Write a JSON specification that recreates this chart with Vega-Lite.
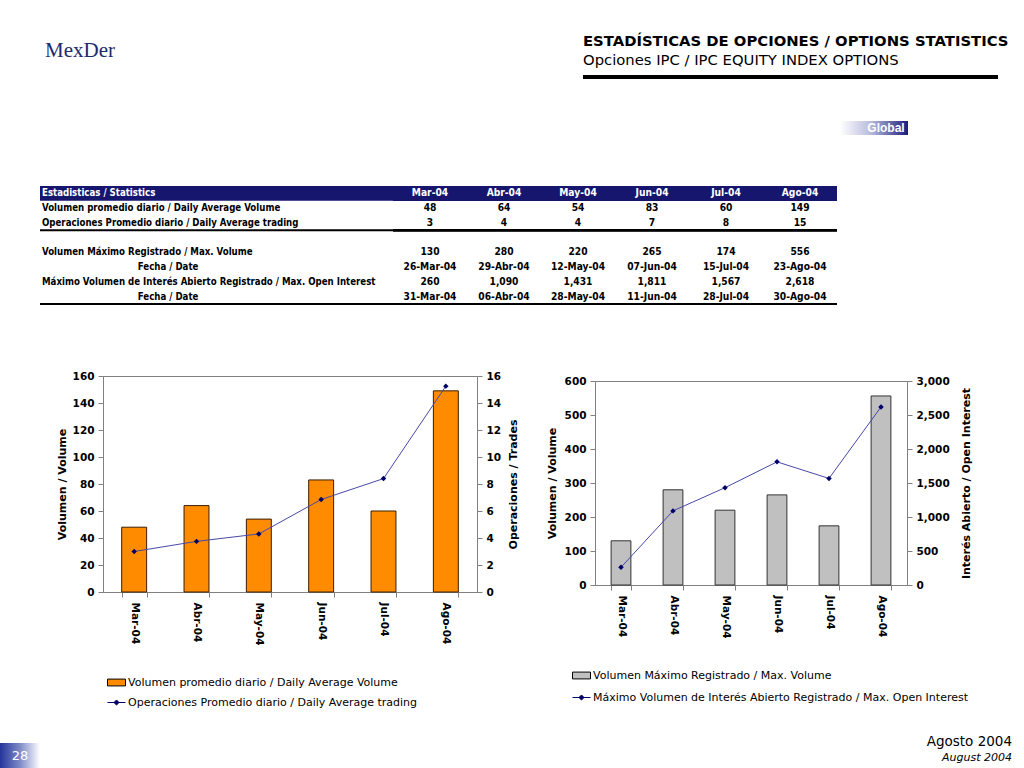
{
  "$schema": "https://vega.github.io/schema/vega-lite/v6.json",
  "background": "#ffffff",
  "padding": 0,
  "spacing": 0,
  "resolve": {"scale": {"color": "independent", "fill": "independent"}, "legend": {"color": "independent", "fill": "independent"}},
  "config": {
    "view": {"stroke": null},
    "axis": {"labelFont": "DejaVu Sans", "titleFont": "DejaVu Sans", "labelColor": "#000000", "titleColor": "#000000", "grid": false},
    "legend": {"padding": 0, "labelFont": "DejaVu Sans"},
    "text": {"font": "DejaVu Sans"}
  },
  "datasets": {
    "mensual1": [
      {"mes": "Mar-04", "vol": 48, "ops": 3.0},
      {"mes": "Abr-04", "vol": 64, "ops": 3.75},
      {"mes": "May-04", "vol": 54, "ops": 4.3},
      {"mes": "Jun-04", "vol": 83, "ops": 6.85},
      {"mes": "Jul-04", "vol": 60, "ops": 8.4},
      {"mes": "Ago-04", "vol": 149, "ops": 15.25}
    ],
    "mensual2": [
      {"mes": "Mar-04", "volmax": 130, "oi": 260},
      {"mes": "Abr-04", "volmax": 280, "oi": 1090},
      {"mes": "May-04", "volmax": 220, "oi": 1431},
      {"mes": "Jun-04", "volmax": 265, "oi": 1811},
      {"mes": "Jul-04", "volmax": 174, "oi": 1567},
      {"mes": "Ago-04", "volmax": 556, "oi": 2618}
    ],
    "tabla": [
      {"clave": "header", "fila": "Estadisticas / Statistics", "Mar-04": "Mar-04", "Abr-04": "Abr-04", "May-04": "May-04", "Jun-04": "Jun-04", "Jul-04": "Jul-04", "Ago-04": "Ago-04"},
      {"clave": "vol_prom", "fila": "Volumen promedio diario / Daily Average Volume", "Mar-04": "48", "Abr-04": "64", "May-04": "54", "Jun-04": "83", "Jul-04": "60", "Ago-04": "149"},
      {"clave": "ops_prom", "fila": "Operaciones Promedio diario / Daily Average trading", "Mar-04": "3", "Abr-04": "4", "May-04": "4", "Jun-04": "7", "Jul-04": "8", "Ago-04": "15"},
      {"clave": "vol_max", "fila": "Volumen Máximo Registrado / Max. Volume", "Mar-04": "130", "Abr-04": "280", "May-04": "220", "Jun-04": "265", "Jul-04": "174", "Ago-04": "556"},
      {"clave": "fecha_vol", "fila": "Fecha / Date", "Mar-04": "26-Mar-04", "Abr-04": "29-Abr-04", "May-04": "12-May-04", "Jun-04": "07-Jun-04", "Jul-04": "15-Jul-04", "Ago-04": "23-Ago-04"},
      {"clave": "oi_max", "fila": "Máximo Volumen de Interés Abierto Registrado / Max. Open Interest", "Mar-04": "260", "Abr-04": "1,090", "May-04": "1,431", "Jun-04": "1,811", "Jul-04": "1,567", "Ago-04": "2,618"},
      {"clave": "fecha_oi", "fila": "Fecha / Date", "Mar-04": "31-Mar-04", "Abr-04": "06-Abr-04", "May-04": "28-May-04", "Jun-04": "11-Jun-04", "Jul-04": "28-Jul-04", "Ago-04": "30-Ago-04"}
    ],
    "logo": [{"t": "MexDer"}],
    "tab": [{"t": "Global"}],
    "pagina": [{"t": "28"}],
    "fecha": [
      {"linea": "es", "t": "Agosto 2004"},
      {"linea": "en", "t": "August 2004"}
    ]
  },
  "vconcat": [
    {
      "spacing": 0,
      "bounds": "flush",
      "hconcat": [
        {"width": 47, "height": 120, "data": {"values": [{}]}, "mark": {"type": "text", "text": ""}, "encoding": {}},
        {"width": 66, "height": 100, "data": {"name": "logo"}, "mark": {"type": "text", "font": "Liberation Serif", "fontSize": 21, "color": "#1c2a6e"}, "encoding": {"text": {"field": "t"}}},
        {"width": 470, "height": 10, "data": {"values": [{}]}, "mark": {"type": "text", "text": ""}, "encoding": {}},
        {
          "spacing": 0,
          "bounds": "flush",
          "vconcat": [
            {"width": 415, "height": 74, "data": {"values": [{}]}, "mark": {"type": "text", "text": ""}, "encoding": {}},
            {
              "width": 415, "height": 4,
              "view": {"fill": "#000000", "stroke": null},
              "title": {"text": "ESTADÍSTICAS DE OPCIONES / OPTIONS STATISTICS", "subtitle": "Opciones IPC / IPC EQUITY INDEX OPTIONS", "anchor": "start", "font": "DejaVu Sans", "fontSize": 14.8, "fontWeight": "bold", "color": "#000000", "subtitleFont": "DejaVu Sans", "subtitleFontSize": 14.8, "subtitleColor": "#000000", "subtitlePadding": 4, "offset": 3},
              "data": {"values": [{}]}, "mark": {"type": "text", "text": ""}, "encoding": {}
            }
          ]
        }
      ]
    },
    {
      "spacing": 0,
      "bounds": "flush",
      "hconcat": [
        {"width": 840, "height": 65, "data": {"values": [{}]}, "mark": {"type": "text", "text": ""}, "encoding": {}},
        {
          "width": 68, "height": 14,
          "view": {"stroke": null, "fill": {"gradient": "linear", "x1": 0, "x2": 1, "y1": 0, "y2": 0, "stops": [{"offset": 0, "color": "#ffffff"}, {"offset": 0.45, "color": "#b8bcdc"}, {"offset": 1, "color": "#1c1c7c"}]}},
          "data": {"name": "tab"},
          "mark": {"type": "text", "color": "#ffffff", "font": "Liberation Sans", "fontWeight": "bold", "fontSize": 12, "dx": 12},
          "encoding": {"text": {"field": "t"}}
        }
      ]
    },
    {
      "spacing": 0,
      "bounds": "flush",
      "hconcat": [
        {"width": 40, "height": 184, "data": {"values": [{}]}, "mark": {"type": "text", "text": ""}, "encoding": {}},
        {
          "width": 353, "height": 118,
          "data": {"name": "tabla"},
          "encoding": {
            "y": {"field": "clave", "type": "nominal", "scale": {"type": "band", "paddingInner": 0, "paddingOuter": 0, "domain": ["header", "vol_prom", "ops_prom", "gap", "vol_max", "fecha_vol", "oi_max", "fecha_oi"]}, "axis": null}
          },
          "layer": [
            {"transform": [{"filter": "datum.clave === 'header'"}], "mark": {"type": "rect", "color": "#16166e"}, "encoding": {}},
            {
              "transform": [{"filter": "datum.clave === 'header'"}],
              "mark": {"type": "text", "align": "left", "dx": 2, "color": "#ffffff", "font": "DejaVu Sans Condensed, sans-serif", "fontSize": 9.6, "fontWeight": "bold"},
              "encoding": {"x": {"datum": "c", "type": "nominal", "bandPosition": 0, "scale": {"type": "band", "paddingInner": 0, "paddingOuter": 0}, "axis": null}, "text": {"field": "fila"}}
            },
            {
              "transform": [{"filter": "datum.clave !== 'header' && datum.clave !== 'fecha_vol' && datum.clave !== 'fecha_oi'"}],
              "mark": {"type": "text", "align": "left", "dx": 2, "color": "#000000", "font": "DejaVu Sans Condensed, sans-serif", "fontSize": 9.6, "fontWeight": "bold"},
              "encoding": {"x": {"datum": "c", "type": "nominal", "bandPosition": 0}, "text": {"field": "fila"}}
            },
            {
              "transform": [{"filter": "datum.clave === 'fecha_vol' || datum.clave === 'fecha_oi'"}],
              "mark": {"type": "text", "align": "center", "color": "#000000", "font": "DejaVu Sans Condensed, sans-serif", "fontSize": 9.6, "fontWeight": "bold"},
              "encoding": {"x": {"datum": "c", "type": "nominal", "bandPosition": 0.363}, "text": {"field": "fila"}}
            },
            {
              "transform": [{"filter": "datum.clave === 'ops_prom' || datum.clave === 'fecha_oi'"}],
              "mark": {"type": "rule", "color": "#000000", "strokeWidth": 2},
              "encoding": {"y": {"field": "clave", "type": "nominal", "bandPosition": 1}}
            }
          ]
        },
        {
          "width": 444, "height": 118,
          "data": {"name": "tabla"},
          "transform": [{"fold": ["Mar-04", "Abr-04", "May-04", "Jun-04", "Jul-04", "Ago-04"], "as": ["mes", "valor"]}],
          "encoding": {
            "y": {"field": "clave", "type": "nominal", "scale": {"type": "band", "paddingInner": 0, "paddingOuter": 0, "domain": ["header", "vol_prom", "ops_prom", "gap", "vol_max", "fecha_vol", "oi_max", "fecha_oi"]}, "axis": null}
          },
          "layer": [
            {"transform": [{"filter": "datum.clave === 'header'"}], "mark": {"type": "rect", "color": "#16166e"}, "encoding": {}},
            {
              "transform": [{"filter": "datum.clave === 'header'"}],
              "mark": {"type": "text", "align": "center", "color": "#ffffff", "font": "DejaVu Sans Condensed, sans-serif", "fontSize": 10.2, "fontWeight": "bold"},
              "encoding": {"x": {"field": "mes", "type": "nominal", "scale": {"type": "band", "paddingInner": 0, "paddingOuter": 0, "domain": ["Mar-04", "Abr-04", "May-04", "Jun-04", "Jul-04", "Ago-04"]}, "axis": null}, "text": {"field": "valor"}}
            },
            {
              "transform": [{"filter": "datum.clave !== 'header'"}],
              "mark": {"type": "text", "align": "center", "color": "#000000", "font": "DejaVu Sans Condensed, sans-serif", "fontSize": 10.2, "fontWeight": "bold"},
              "encoding": {"x": {"field": "mes", "type": "nominal"}, "text": {"field": "valor"}}
            },
            {
              "transform": [{"filter": "datum.clave === 'ops_prom' || datum.clave === 'fecha_oi'"}],
              "mark": {"type": "rule", "color": "#000000", "strokeWidth": 2},
              "encoding": {"y": {"field": "clave", "type": "nominal", "bandPosition": 1}}
            }
          ]
        }
      ]
    },
    {
      "spacing": 0,
      "bounds": "flush",
      "resolve": {"scale": {"color": "independent", "fill": "independent"}, "legend": {"color": "independent", "fill": "independent"}},
      "hconcat": [
        {"width": 103, "height": 10, "data": {"values": [{}]}, "mark": {"type": "text", "text": ""}, "encoding": {}},
        {
          "width": 374, "height": 216,
          "view": {"stroke": "#808080"},
          "data": {"name": "mensual1"},
          "encoding": {
            "x": {"field": "mes", "type": "nominal", "sort": null, "scale": {"type": "band", "paddingInner": 0.6, "paddingOuter": 0.3},
              "axis": {"title": null, "labelAngle": 90, "labelFontWeight": "bold", "labelFontSize": 10.5, "labelPadding": 5, "tickBand": "extent", "tickSize": 5, "domainColor": "#808080", "tickColor": "#808080"}}
          },
          "layer": [
            {
              "mark": {"type": "bar", "stroke": "#3a1e00", "strokeWidth": 1},
              "encoding": {
                "y": {"field": "vol", "type": "quantitative", "scale": {"domain": [0, 160]},
                  "axis": {"title": "Volumen / Volume", "values": [0, 20, 40, 60, 80, 100, 120, 140, 160], "labelFontWeight": "bold", "labelFontSize": 10.5, "labelPadding": 4, "tickSize": 5, "domainColor": "#808080", "tickColor": "#808080", "titleFontSize": 11, "titleFontWeight": "bold", "titlePadding": 5}},
                "fill": {"datum": "Volumen promedio diario / Daily Average Volume", "type": "nominal",
                  "scale": {"range": ["#FF8C00"]},
                  "legend": {"orient": "none", "legendX": 4, "legendY": 297, "title": null, "labelFontSize": 11, "labelColor": "#000000", "labelLimit": 0, "symbolSize": 324, "symbolType": "M-1,-0.38H1V0.38H-1Z", "symbolStrokeColor": "#000000", "symbolStrokeWidth": 1, "labelOffset": 2}}
              }
            },
            {
              "encoding": {
                "y": {"field": "ops", "type": "quantitative", "scale": {"domain": [0, 16]},
                  "axis": {"orient": "right", "title": "Operaciones / Trades", "titleAngle": 270, "values": [0, 2, 4, 6, 8, 10, 12, 14, 16], "labelFontWeight": "bold", "labelFontSize": 10.5, "labelPadding": 4, "tickSize": 5, "domainColor": "#808080", "tickColor": "#808080", "titleFontSize": 11, "titleFontWeight": "bold", "titlePadding": 18}}
              },
              "layer": [
                {"mark": {"type": "line", "color": "#4848a8", "strokeWidth": 1}, "encoding": {}},
                {"mark": {"type": "point", "filled": true, "shape": "diamond", "size": 30, "opacity": 1},
                  "encoding": {"color": {"datum": "Operaciones Promedio diario / Daily Average trading", "type": "nominal", "scale": {"range": ["#000066"]},
                    "legend": {"orient": "none", "legendX": 4, "legendY": 317, "title": null, "labelFontSize": 11, "labelColor": "#000000", "labelLimit": 0, "symbolSize": 324, "symbolType": "M-1,0H1M0,-0.28L0.28,0L0,0.28L-0.28,0Z", "symbolStrokeColor": "#000066", "symbolFillColor": "#000066", "symbolStrokeWidth": 1, "labelOffset": 2}}}}
              ]
            }
          ],
          "resolve": {"scale": {"y": "independent"}}
        },
        {"width": 118, "height": 10, "data": {"values": [{}]}, "mark": {"type": "text", "text": ""}, "encoding": {}},
        {
          "spacing": 0,
          "bounds": "flush",
          "resolve": {"scale": {"color": "independent", "fill": "independent"}, "legend": {"color": "independent", "fill": "independent"}},
          "vconcat": [
            {"width": 312, "height": 5, "data": {"values": [{}]}, "mark": {"type": "text", "text": ""}, "encoding": {}},
            {
              "width": 312, "height": 204,
              "view": {"stroke": "#808080"},
              "data": {"name": "mensual2"},
              "encoding": {
                "x": {"field": "mes", "type": "nominal", "sort": null, "scale": {"type": "band", "paddingInner": 0.62, "paddingOuter": 0.31},
                  "axis": {"title": null, "labelAngle": 90, "labelFontWeight": "bold", "labelFontSize": 10.5, "labelPadding": 5, "tickBand": "extent", "tickSize": 5, "domainColor": "#808080", "tickColor": "#808080"}}
              },
              "layer": [
                {
                  "mark": {"type": "bar", "stroke": "#333333", "strokeWidth": 1},
                  "encoding": {
                    "y": {"field": "volmax", "type": "quantitative", "scale": {"domain": [0, 600]},
                      "axis": {"title": "Volumen / Volume", "values": [0, 100, 200, 300, 400, 500, 600], "labelFontWeight": "bold", "labelFontSize": 10.5, "labelPadding": 4, "tickSize": 5, "domainColor": "#808080", "tickColor": "#808080", "titleFontSize": 11, "titleFontWeight": "bold", "titlePadding": 7}},
                    "fill": {"datum": "Volumen Máximo Registrado / Max. Volume", "type": "nominal",
                      "scale": {"range": ["#C0C0C0"]},
                      "legend": {"orient": "none", "legendX": -23, "legendY": 285, "title": null, "labelFontSize": 11, "labelColor": "#000000", "labelLimit": 0, "symbolSize": 324, "symbolType": "M-1,-0.38H1V0.38H-1Z", "symbolStrokeColor": "#000000", "symbolStrokeWidth": 1, "labelOffset": 2}}
                  }
                },
                {
                  "encoding": {
                    "y": {"field": "oi", "type": "quantitative", "scale": {"domain": [0, 3000]},
                      "axis": {"orient": "right", "title": "Interés Abierto / Open Interest", "titleAngle": 270, "format": ",.0f", "values": [0, 500, 1000, 1500, 2000, 2500, 3000], "labelFontWeight": "bold", "labelFontSize": 10.5, "labelPadding": 4, "tickSize": 5, "domainColor": "#808080", "tickColor": "#808080", "titleFontSize": 11, "titleFontWeight": "bold", "titlePadding": 22}}
                  },
                  "layer": [
                    {"mark": {"type": "line", "color": "#4848a8", "strokeWidth": 1}, "encoding": {}},
                    {"mark": {"type": "point", "filled": true, "shape": "diamond", "size": 30, "opacity": 1},
                      "encoding": {"color": {"datum": "Máximo Volumen de Interés Abierto Registrado / Max. Open Interest", "type": "nominal", "scale": {"range": ["#000066"]},
                        "legend": {"orient": "none", "legendX": -23, "legendY": 307, "title": null, "labelFontSize": 11, "labelColor": "#000000", "labelLimit": 0, "symbolSize": 324, "symbolType": "M-1,0H1M0,-0.28L0.28,0L0,0.28L-0.28,0Z", "symbolStrokeColor": "#000066", "symbolFillColor": "#000066", "symbolStrokeWidth": 1, "labelOffset": 2}}}}
                  ]
                }
              ],
              "resolve": {"scale": {"y": "independent"}}
            }
          ]
        }
      ]
    },
    {"width": 10, "height": 23, "data": {"values": [{}]}, "mark": {"type": "text", "text": ""}, "encoding": {}},
    {
      "spacing": 0,
      "hconcat": [
        {
          "spacing": 0,
          "bounds": "flush",
          "vconcat": [
            {"width": 40, "height": 9, "data": {"values": [{}]}, "mark": {"type": "text", "text": ""}, "encoding": {}},
            {
              "width": 40, "height": 26,
              "view": {"stroke": null, "fill": {"gradient": "linear", "x1": 0, "x2": 1, "y1": 0, "y2": 0, "stops": [{"offset": 0, "color": "#25359a"}, {"offset": 0.5, "color": "#7f8bc8"}, {"offset": 1, "color": "#ffffff"}]}},
              "data": {"name": "pagina"},
              "mark": {"type": "text", "color": "#ffffff", "font": "DejaVu Sans", "fontSize": 13},
              "encoding": {"text": {"field": "t"}}
            }
          ]
        },
        {"width": 872, "height": 10, "data": {"values": [{}]}, "mark": {"type": "text", "text": ""}, "encoding": {}},
        {
          "width": 100, "height": 32,
          "data": {"name": "fecha"},
          "encoding": {
            "y": {"field": "linea", "type": "nominal", "scale": {"type": "band", "paddingInner": 0, "paddingOuter": 0, "domain": ["es", "en"]}, "axis": null},
            "x": {"datum": "c", "type": "nominal", "bandPosition": 1, "scale": {"type": "band", "paddingInner": 0, "paddingOuter": 0}, "axis": null},
            "text": {"field": "t"}
          },
          "layer": [
            {"transform": [{"filter": "datum.linea === 'es'"}], "mark": {"type": "text", "align": "right", "font": "DejaVu Sans", "fontSize": 13.5, "color": "#000000"}},
            {"transform": [{"filter": "datum.linea === 'en'"}], "mark": {"type": "text", "align": "right", "font": "DejaVu Sans", "fontSize": 11, "fontStyle": "italic", "color": "#000000"}}
          ]
        }
      ]
    }
  ]
}
